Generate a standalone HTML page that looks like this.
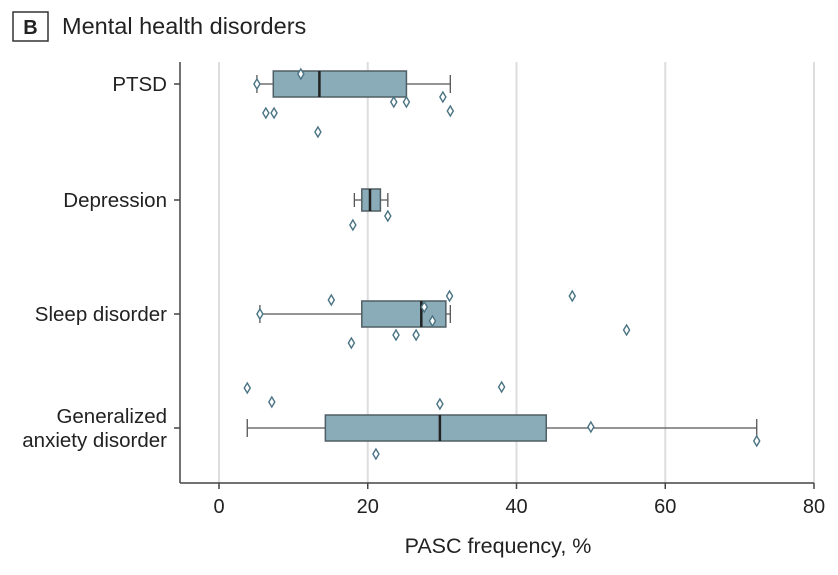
<!DOCTYPE html>
<html><head><meta charset="utf-8"><style>
body{margin:0;background:#fff;width:838px;height:570px;overflow:hidden;font-family:"Liberation Sans",sans-serif}
</style></head><body>
<svg id="c" width="838" height="570" font-family="Liberation Sans, sans-serif">
<rect x="13" y="12" width="35" height="29" fill="none" stroke="#333" stroke-width="1.5"/>
<text x="30.5" y="34" text-anchor="middle" font-size="20" font-weight="bold" fill="#222">B</text>
<text x="62" y="34" font-size="23.5" fill="#222">Mental health disorders</text>
<g id="g"></g>
</svg>
<script>
const categories=["PTSD","Depression","Sleep disorder","Generalized\nanxiety disorder"];
const whiskerLow=[5.1,18.2,5.5,3.8];
const q1=[7.3,19.2,19.2,14.3];
const median=[13.5,20.3,27.2,29.7];
const q3=[25.2,21.7,30.5,44];
const whiskerHigh=[31.1,22.7,31.1,72.3];
const outlierCat=[0,0,0,0,0,0,0,0,0,1,1,2,2,2,2,2,2,2,2,2,2,3,3,3,3,3,3,3];
const outlierVal=[11,5.1,6.3,7.4,23.5,25.2,30.1,31.1,13.3,22.7,18.0,15.1,31,27.6,28.7,23.8,26.5,17.8,47.5,54.8,5.5,3.8,7.1,29.7,38,50,72.3,21.1];
const outlierJitter=[-10,0,29,29,18,18,13,27,48,16,25,-14,-18,-7,7,21,21,29,-18,16,0,-40,-26,-24,-41,-1,13,26];
const xTicks=[0,20,40,60,80];
const NS="http://www.w3.org/2000/svg";
const g=document.getElementById('g');
const X0=219,X1=814,xMin=0,xMax=80;
const xs=v=>X0+(v-xMin)/(xMax-xMin)*(X1-X0);
const catY=[84,200,314,428];
const ys=i=>catY[i];
function el(t,a){const e=document.createElementNS(NS,t);for(const k in a)e.setAttribute(k,a[k]);g.appendChild(e);return e;}
xTicks.forEach(t=>{const e=el('line',{x1:xs(t),x2:xs(t),y1:62,y2:483,stroke:'#ddd','stroke-width':2});

});
let a=el('line',{x1:180,x2:180,y1:62,y2:483,stroke:'#444','stroke-width':1.5});


a=el('line',{x1:180,x2:X1,y1:483,y2:483,stroke:'#444','stroke-width':1.5});


xTicks.forEach(t=>{const l=el('line',{x1:xs(t),x2:xs(t),y1:483,y2:489,stroke:'#444','stroke-width':1.5});


const tx=el('text',{x:xs(t),y:513,'text-anchor':'middle','font-size':20,fill:'#222'});tx.textContent=t;

});
const xt=el('text',{x:498,y:553,'text-anchor':'middle','font-size':21.5,fill:'#222'});xt.textContent='PASC frequency, %';


categories.forEach((c,i)=>{const y=ys(i);
const tk=el('line',{x1:174,x2:180,y1:y,y2:y,stroke:'#444','stroke-width':1.5});


const lines=c.split('\n');
lines.forEach((s,k)=>{const t=el('text',{x:167,y:y+7+(k-(lines.length-1)/2)*24,'text-anchor':'end','font-size':20.5,fill:'#222'});t.textContent=s;

});
const h=i===1?11:13;
const w=el('line',{x1:xs(whiskerLow[i]),x2:xs(whiskerHigh[i]),y1:y,y2:y,stroke:'#555','stroke-width':1.3});


[whiskerLow[i],whiskerHigh[i]].forEach(v=>{const cap=el('line',{x1:xs(v),x2:xs(v),y1:y-(h-4),y2:y+(h-4),stroke:'#555','stroke-width':1.3});

});
const b=el('rect',{x:xs(q1[i]),y:y-h,width:xs(q3[i])-xs(q1[i]),height:2*h,fill:'#8aabb8',stroke:'#4f5e64','stroke-width':1.5});


const m=el('line',{x1:xs(median[i]),x2:xs(median[i]),y1:y-h,y2:y+h,stroke:'#222','stroke-width':2.5});

});
outlierVal.forEach((v,k)=>{const x=xs(v),y=ys(outlierCat[k])+outlierJitter[k];
const p=el('path',{d:`M${x},${y-5}L${x+3},${y}L${x},${y+5}L${x-3},${y}Z`,fill:'#fff',stroke:'#4a7383','stroke-width':1.4});

});
</script>
</body></html>
